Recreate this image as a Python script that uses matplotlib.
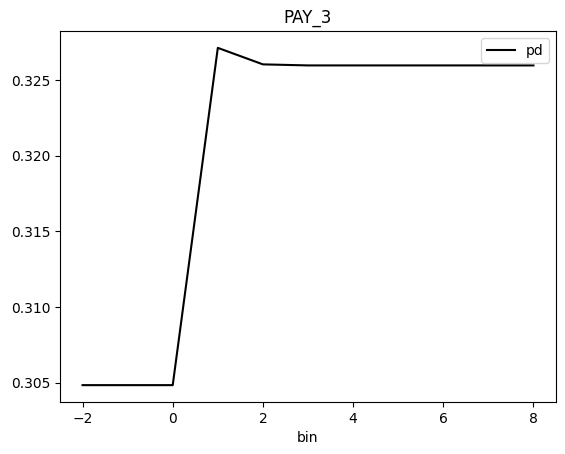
import matplotlib
matplotlib.use("Agg")
import matplotlib.pyplot as plt

# bin -> pd values for PAY_3
bins = [-2, -1, 0, 1, 2, 3, 4, 5, 6, 7, 8]
pd_vals = [0.30485, 0.30485, 0.30485, 0.32713, 0.32604, 0.32597,
           0.32597, 0.32597, 0.32597, 0.32597, 0.32597]

fig = plt.figure(figsize=(5.65, 4.54), dpi=100)
ax = fig.add_axes([60 / 565, 52 / 454, 496 / 565, 371 / 454])
ax.plot(bins, pd_vals, color="black", label="pd")
ax.set_title("PAY_3")
ax.set_xlabel("bin")
ax.legend(loc="upper right")

fig.savefig("out.png", dpi=100)
